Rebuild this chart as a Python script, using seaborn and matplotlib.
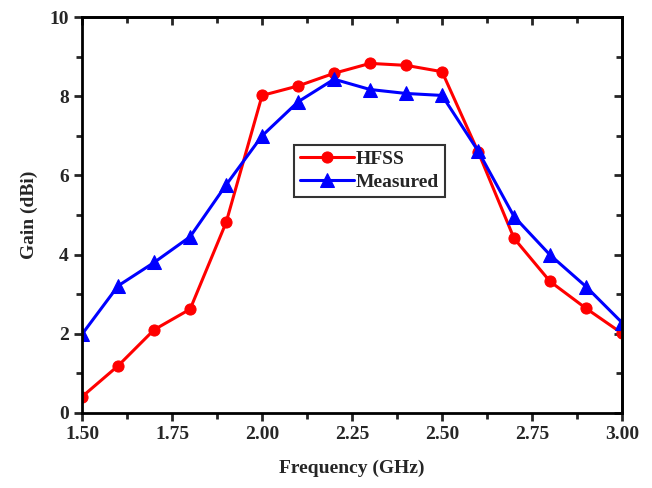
import numpy as np
import pandas as pd
import matplotlib
matplotlib.use("Agg")
import matplotlib.pyplot as plt
from matplotlib.ticker import MultipleLocator
import seaborn as sns

# data
freq = [1.5, 1.6, 1.7, 1.8, 1.9, 2.0, 2.1, 2.2, 2.3, 2.4, 2.5, 2.6, 2.7, 2.8, 2.9, 3.0]
hfss = [0.41, 1.19, 2.10, 2.62, 4.81, 8.02, 8.26, 8.58, 8.83, 8.78, 8.62, 6.60, 4.41, 3.32, 2.64, 2.01]
measured = [1.99, 3.21, 3.80, 4.45, 5.76, 7.00, 7.86, 8.43, 8.17, 8.07, 8.02, 6.62, 4.96, 3.99, 3.19, 2.28]

df = pd.DataFrame({"freq": freq, "HFSS": hfss, "Measured": measured})

sns.set_style("ticks")
plt.rcParams['font.family'] = ['Liberation Serif', 'DejaVu Serif']
plt.rcParams['font.weight'] = 'bold'
plt.rcParams['axes.labelweight'] = 'bold'

fig = plt.figure(figsize=(6.52, 4.88), dpi=100)
ax = fig.add_axes([0.126, 0.154, 0.828, 0.811])

sns.lineplot(data=df, x="freq", y="HFSS", ax=ax, color="#ff0000", marker="o",
             markersize=8, markeredgecolor="#ff0000", linewidth=2.2, label="HFSS")
sns.lineplot(data=df, x="freq", y="Measured", ax=ax, color="#0000ff", marker="^",
             markersize=10, markeredgecolor="#0000ff", linewidth=2.2, label="Measured")

ax.set_xlim(1.5, 3.0)
ax.set_ylim(0, 10)
ax.xaxis.set_major_locator(MultipleLocator(0.25))
ax.xaxis.set_minor_locator(MultipleLocator(0.125))
ax.yaxis.set_major_locator(MultipleLocator(2))
ax.yaxis.set_minor_locator(MultipleLocator(1))
ax.xaxis.set_major_formatter(matplotlib.ticker.FormatStrFormatter('%.2f'))

for s in ax.spines.values():
    s.set_visible(True)
    s.set_linewidth(2)
    s.set_color("black")

ax.tick_params(which='major', direction='out', length=6, width=2, labelsize=14)
ax.tick_params(which='minor', direction='out', length=4, width=2)
for lab in ax.get_xticklabels() + ax.get_yticklabels():
    lab.set_fontweight('bold')

# mirrored ticks on top and right, pointing inward
top = ax.secondary_xaxis('top')
top.xaxis.set_major_locator(MultipleLocator(0.25))
top.xaxis.set_minor_locator(MultipleLocator(0.125))
top.tick_params(which='major', direction='in', length=6, width=2, labeltop=False)
top.tick_params(which='minor', direction='in', length=4, width=2)
top.spines['top'].set_linewidth(2)
right = ax.secondary_yaxis('right')
right.yaxis.set_major_locator(MultipleLocator(2))
right.yaxis.set_minor_locator(MultipleLocator(1))
right.tick_params(which='major', direction='in', length=6, width=2, labelright=False)
right.tick_params(which='minor', direction='in', length=4, width=2)
right.spines['right'].set_linewidth(2)

ax.set_xlabel("Frequency (GHz)", fontsize=14, fontweight='bold', labelpad=12)
ax.set_ylabel("Gain (dBi)", fontsize=14, fontweight='bold', labelpad=8)

leg = ax.legend(loc='center', bbox_to_anchor=(0.532, 0.612), frameon=True,
                fancybox=False, edgecolor='black', handlelength=2.8,
                prop={'weight': 'bold', 'size': 14}, borderpad=0.3,
                labelspacing=0.25, handletextpad=0.1)
leg.get_frame().set_linewidth(1.5)

fig.savefig("out.png", dpi=100)
